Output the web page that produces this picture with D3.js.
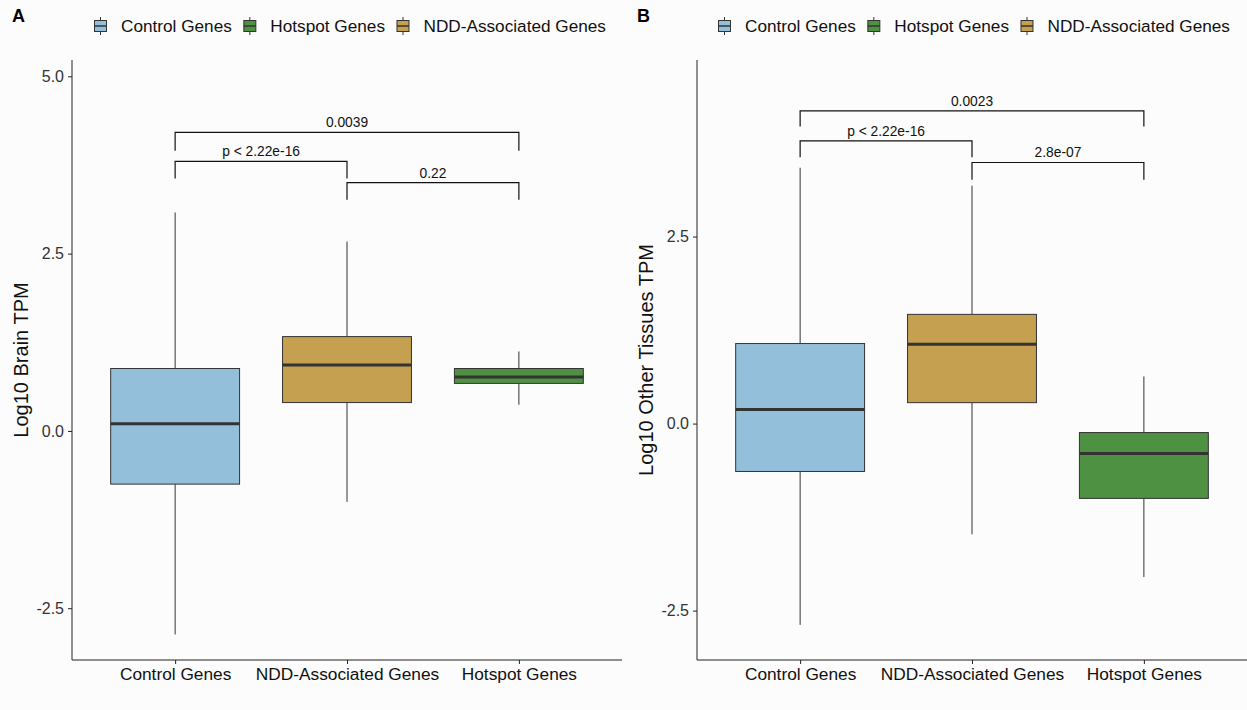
<!DOCTYPE html>
<html>
<head>
<meta charset="utf-8">
<script src="https://cdn.jsdelivr.net/npm/d3@7/dist/d3.min.js"></script>
<style>
  body { margin: 0; background: #fcfcfc; }
  svg { display: block; font-family: "Liberation Sans", Arial, sans-serif; }
</style>
</head>
<body>
<div id="chart"></div>
<script>
// categories in plotting order (x axis) and legend order
var categories = ["Control Genes", "NDD-Associated Genes", "Hotspot Genes"];
var legendOrder = ["Control Genes", "Hotspot Genes", "NDD-Associated Genes"];
var colors = { "Control Genes": "#94bfda", "NDD-Associated Genes": "#c4a050", "Hotspot Genes": "#4f9143" };

// box stats: [lower whisker, Q1, median, Q3, upper whisker]
var brainStats = [
    [-2.87, -0.75, 0.10, 0.88, 3.08],
    [-1.00, 0.40, 0.93, 1.33, 2.67],
    [0.37, 0.67, 0.76, 0.88, 1.12]
];
var otherStats = [
    [-2.69, -0.64, 0.19, 1.07, 3.42],
    [-1.48, 0.28, 1.06, 1.46, 3.18],
    [-2.05, -1.00, -0.40, -0.12, 0.63]
];

// brackets: [from category index, to category index, bar y, tip y, label]
var brainBrackets = [
    [0, 2, 4.21, 3.95, "0.0039"],
    [0, 1, 3.80, 3.56, "p < 2.22e-16"],
    [1, 2, 3.50, 3.26, "0.22"]
];
var otherBrackets = [
    [0, 2, 4.18, 3.97, "0.0023"],
    [0, 1, 3.78, 3.56, "p < 2.22e-16"],
    [1, 2, 3.49, 3.26, "2.8e-07"]
];

var brainTicks = [-2.5, 0, 2.5, 5];
var otherTicks = [-2.5, 0, 2.5];

var svgWidth = 1247, svgHeight = 710;
var svg = d3.select("#chart").append("svg")
    .attr("width", svgWidth)
    .attr("height", svgHeight);

function drawPanel(opt) {
    var g = svg.append("g");
    var left = opt.left, right = opt.left + 550, top = 60, bottom = 660;

    // ggplot style discrete scale with 0.6 expansion
    var x = d3.scaleLinear().domain([0.4, 3.6]).range([left, right]);
    var y = d3.scaleLinear().domain(opt.yDomain).range([bottom, top]);
    var bw = 0.75 * (x(2) - x(1));

    // panel letter
    g.append("text")
        .attr("x", opt.left - 60).attr("y", 22)
        .attr("font-weight", "bold").attr("font-size", 18)
        .attr("fill", "#000")
        .text(opt.letter);

    // legend
    var lx = opt.legendX;
    legendOrder.forEach(function (c) {
        var k = g.append("g").attr("transform", "translate(" + lx + ",26)");
        k.append("line").attr("x1", 7).attr("x2", 7).attr("y1", -9).attr("y2", 9)
            .attr("stroke", "#333").attr("stroke-width", 1);
        k.append("rect").attr("x", 1).attr("y", -5.5).attr("width", 12).attr("height", 11)
            .attr("fill", colors[c]).attr("stroke", "#333").attr("stroke-width", 1);
        k.append("line").attr("x1", 1).attr("x2", 13).attr("y1", 0).attr("y2", 0)
            .attr("stroke", "#333").attr("stroke-width", 1.5);
        var t = k.append("text").attr("x", 27.5).attr("y", 6)
            .attr("font-size", 17.2).attr("fill", "#111").text(c);
        lx += 27.5 + t.node().getComputedTextLength() + 11;
    });

    // axes
    var fmt = function (d) { return d3.format(".1f")(d).replace("\u2212", "-"); };
    var yAxis = d3.axisLeft(y).tickValues(opt.ticks).tickFormat(fmt).tickSize(4).tickPadding(4);
    var ya = g.append("g").attr("transform", "translate(" + left + ",0)").call(yAxis);
    ya.select(".domain").attr("d", "M0," + top + "V" + bottom).attr("stroke", "#222");
    ya.selectAll(".tick line").attr("stroke", "#222");
    ya.selectAll("text").attr("font-size", 16).attr("fill", "#333")
        .attr("font-family", "Liberation Sans, Arial, sans-serif");

    var xAxis = d3.axisBottom(x).tickValues([1, 2, 3]).tickFormat(function (d) { return categories[d - 1]; })
        .tickSize(4).tickPadding(4);
    var xa = g.append("g").attr("transform", "translate(0," + bottom + ")").call(xAxis);
    xa.select(".domain").attr("d", "M" + left + ",0H" + right).attr("stroke", "#222");
    xa.selectAll(".tick line").attr("stroke", "#222");
    xa.selectAll("text").attr("font-size", 17.3).attr("fill", "#111")
        .attr("font-family", "Liberation Sans, Arial, sans-serif");

    // y title
    g.append("text")
        .attr("transform", "translate(" + (left - 44) + "," + ((top + bottom) / 2) + ") rotate(-90)")
        .attr("text-anchor", "middle").attr("font-size", 20).attr("fill", "#111")
        .text(opt.yTitle);

    // boxes
    opt.stats.forEach(function (s, i) {
        var cx = x(i + 1);
        var c = categories[i];
        g.append("line").attr("x1", cx).attr("x2", cx).attr("y1", y(s[4])).attr("y2", y(s[3]))
            .attr("stroke", "#333").attr("stroke-width", 1);
        g.append("line").attr("x1", cx).attr("x2", cx).attr("y1", y(s[1])).attr("y2", y(s[0]))
            .attr("stroke", "#333").attr("stroke-width", 1);
        g.append("rect").attr("x", cx - bw / 2).attr("width", bw)
            .attr("y", y(s[3])).attr("height", y(s[1]) - y(s[3]))
            .attr("fill", colors[c]).attr("stroke", "#333").attr("stroke-width", 1);
        g.append("line").attr("x1", cx - bw / 2).attr("x2", cx + bw / 2)
            .attr("y1", y(s[2])).attr("y2", y(s[2]))
            .attr("stroke", "#333").attr("stroke-width", 3);
    });

    // significance brackets
    opt.brackets.forEach(function (b) {
        var x1 = x(b[0] + 1), x2 = x(b[1] + 1);
        g.append("path")
            .attr("d", "M" + x1 + "," + y(b[3]) + "V" + y(b[2]) + "H" + x2 + "V" + y(b[3]))
            .attr("fill", "none").attr("stroke", "#111").attr("stroke-width", 1.2);
        g.append("text").attr("x", (x1 + x2) / 2).attr("y", y(b[2]) - 5)
            .attr("text-anchor", "middle").attr("font-size", 13.8).attr("fill", "#111")
            .text(b[4]);
    });
}

drawPanel({
    letter: "A", left: 72, legendX: 93.5, yDomain: [-3.23, 5.23],
    ticks: brainTicks, stats: brainStats, brackets: brainBrackets, yTitle: "Log10 Brain TPM"
});
drawPanel({
    letter: "B", left: 697, legendX: 717.5, yDomain: [-3.16, 4.86],
    ticks: otherTicks, stats: otherStats, brackets: otherBrackets, yTitle: "Log10 Other Tissues TPM"
});
</script>
</body>
</html>
